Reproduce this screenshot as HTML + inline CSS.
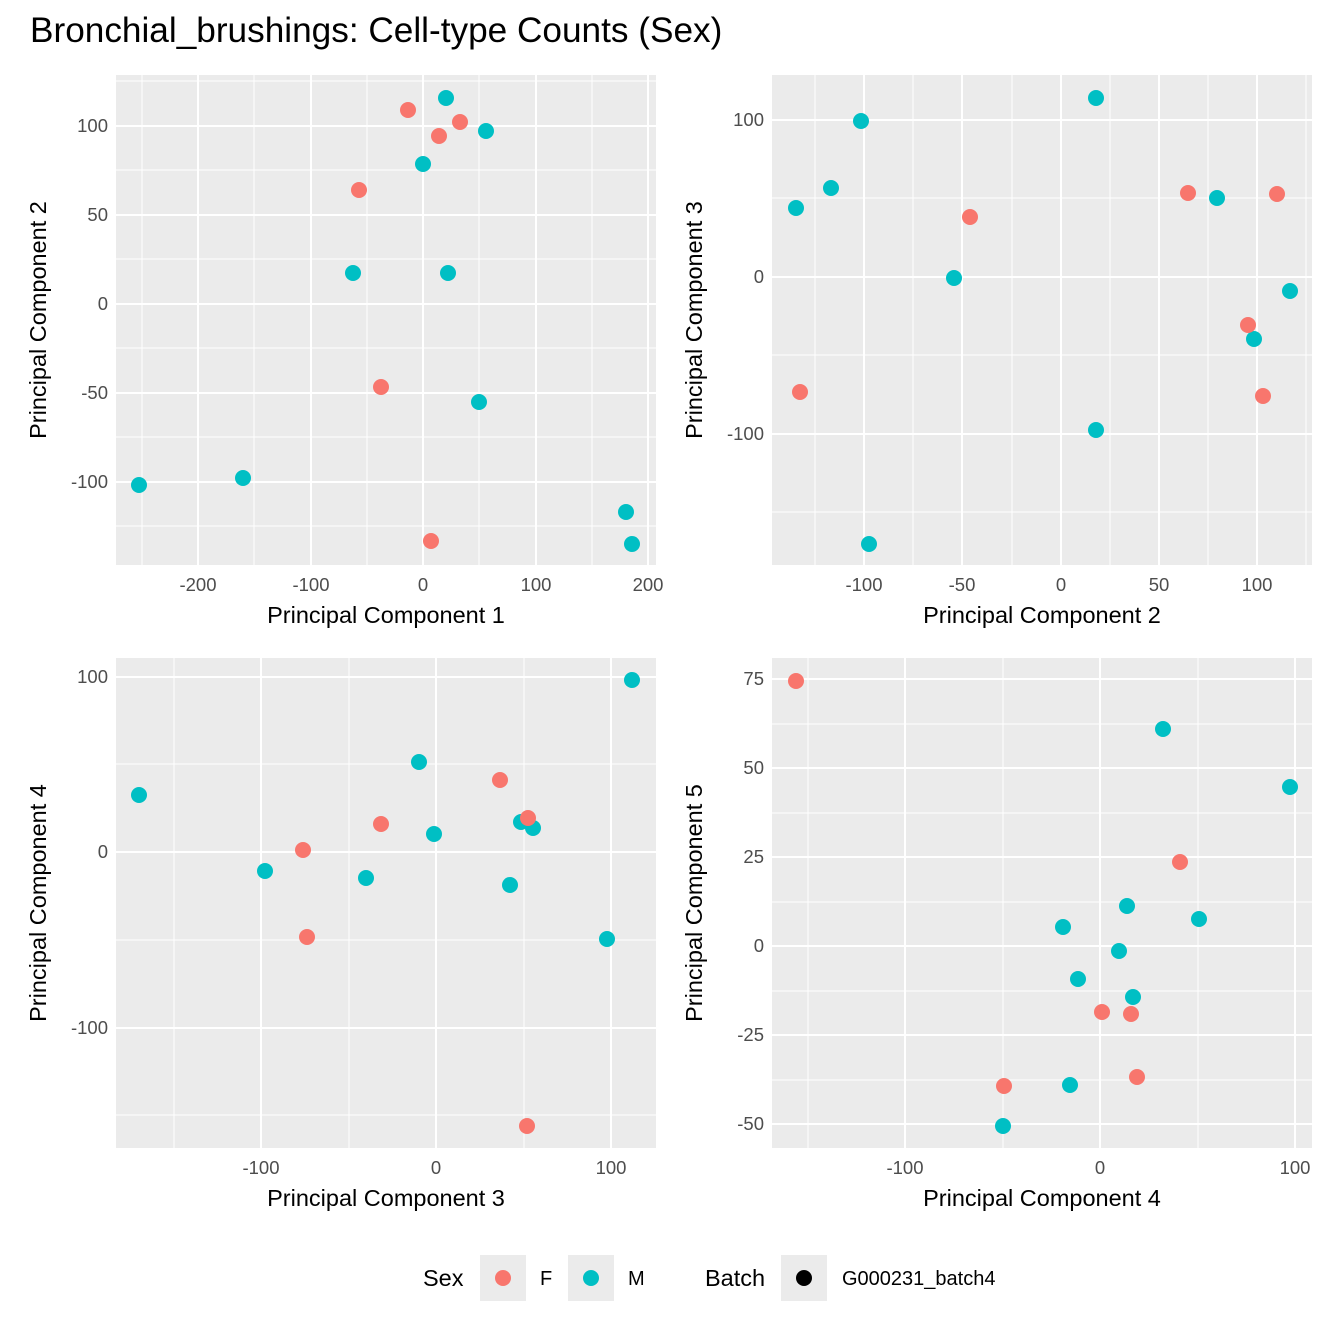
<!DOCTYPE html>
<html><head><style>body{margin:0;background:#fff}svg{display:block}</style></head><body>
<svg width="1344" height="1344" xmlns="http://www.w3.org/2000/svg" font-family="Liberation Sans, Arial, sans-serif">
<rect width="1344" height="1344" fill="#fff"/>
<text x="30" y="42" font-size="35.2" fill="#000">Bronchial_brushings: Cell-type Counts (Sex)</text>

<!-- Panel 1 -->
<rect x="116" y="75" width="540" height="490" fill="#ebebeb"/>
<g stroke="#fff" stroke-width="1">
<line x1="116" x2="656" y1="170" y2="170"/><line x1="116" x2="656" y1="259" y2="259"/><line x1="116" x2="656" y1="348" y2="348"/><line x1="116" x2="656" y1="437" y2="437"/><line x1="116" x2="656" y1="526" y2="526"/><line x1="116" x2="656" y1="81" y2="81"/>
<line y1="75" y2="565" x1="142" x2="142"/><line y1="75" y2="565" x1="254" x2="254"/><line y1="75" y2="565" x1="367" x2="367"/><line y1="75" y2="565" x1="479" x2="479"/><line y1="75" y2="565" x1="592" x2="592"/>
</g>
<g stroke="#fff" stroke-width="2">
<line x1="116" x2="656" y1="126" y2="126"/><line x1="116" x2="656" y1="215" y2="215"/><line x1="116" x2="656" y1="304" y2="304"/><line x1="116" x2="656" y1="393" y2="393"/><line x1="116" x2="656" y1="482" y2="482"/>
<line y1="75" y2="565" x1="198" x2="198"/><line y1="75" y2="565" x1="311" x2="311"/><line y1="75" y2="565" x1="423" x2="423"/><line y1="75" y2="565" x1="536" x2="536"/><line y1="75" y2="565" x1="648" x2="648"/>
</g>
<g font-size="18.5" fill="#4d4d4d" text-anchor="end">
<text x="108" y="132">100</text><text x="108" y="221">50</text><text x="108" y="310">0</text><text x="108" y="399">-50</text><text x="108" y="488">-100</text>
</g>
<g font-size="18.5" fill="#4d4d4d" text-anchor="middle">
<text x="198" y="591">-200</text><text x="311" y="591">-100</text><text x="423" y="591">0</text><text x="536" y="591">100</text><text x="648" y="591">200</text>
</g>
<text x="386" y="623" font-size="23.5" text-anchor="middle">Principal Component 1</text>
<text transform="translate(46,320) rotate(-90)" font-size="23.5" text-anchor="middle">Principal Component 2</text>
<g fill="#00BFC4"><circle cx="446" cy="98" r="8"/><circle cx="486" cy="131" r="8"/><circle cx="423" cy="164" r="8"/><circle cx="353" cy="273" r="8"/><circle cx="448" cy="273" r="8"/><circle cx="479" cy="402" r="8"/><circle cx="139" cy="485" r="8"/><circle cx="243" cy="478" r="8"/><circle cx="626" cy="512" r="8"/><circle cx="632" cy="544" r="8"/></g>
<g fill="#F8766D"><circle cx="408" cy="110" r="8"/><circle cx="460" cy="122" r="8"/><circle cx="439" cy="136" r="8"/><circle cx="359" cy="190" r="8"/><circle cx="381" cy="387" r="8"/><circle cx="431" cy="541" r="8"/></g>

<!-- Panel 2 -->
<rect x="772" y="75" width="540" height="490" fill="#ebebeb"/>
<g stroke="#fff" stroke-width="1">
<line x1="772" x2="1312" y1="198" y2="198"/><line x1="772" x2="1312" y1="355" y2="355"/><line x1="772" x2="1312" y1="512" y2="512"/>
<line y1="75" y2="565" x1="815" x2="815"/><line y1="75" y2="565" x1="913" x2="913"/><line y1="75" y2="565" x1="1012" x2="1012"/><line y1="75" y2="565" x1="1110" x2="1110"/><line y1="75" y2="565" x1="1208" x2="1208"/><line y1="75" y2="565" x1="1306" x2="1306"/>
</g>
<g stroke="#fff" stroke-width="2">
<line x1="772" x2="1312" y1="120" y2="120"/><line x1="772" x2="1312" y1="277" y2="277"/><line x1="772" x2="1312" y1="434" y2="434"/>
<line y1="75" y2="565" x1="864" x2="864"/><line y1="75" y2="565" x1="962" x2="962"/><line y1="75" y2="565" x1="1061" x2="1061"/><line y1="75" y2="565" x1="1159" x2="1159"/><line y1="75" y2="565" x1="1257" x2="1257"/>
</g>
<g font-size="18.5" fill="#4d4d4d" text-anchor="end">
<text x="764" y="126">100</text><text x="764" y="283">0</text><text x="764" y="440">-100</text>
</g>
<g font-size="18.5" fill="#4d4d4d" text-anchor="middle">
<text x="864" y="591">-100</text><text x="962" y="591">-50</text><text x="1061" y="591">0</text><text x="1159" y="591">50</text><text x="1257" y="591">100</text>
</g>
<text x="1042" y="623" font-size="23.5" text-anchor="middle">Principal Component 2</text>
<text transform="translate(702,320) rotate(-90)" font-size="23.5" text-anchor="middle">Principal Component 3</text>
<g fill="#00BFC4"><circle cx="1096" cy="98" r="8"/><circle cx="861" cy="121" r="8"/><circle cx="831" cy="188" r="8"/><circle cx="796" cy="208" r="8"/><circle cx="1217" cy="198" r="8"/><circle cx="954" cy="278" r="8"/><circle cx="1290" cy="291" r="8"/><circle cx="1254" cy="339" r="8"/><circle cx="1096" cy="430" r="8"/><circle cx="869" cy="544" r="8"/></g>
<g fill="#F8766D"><circle cx="1188" cy="193" r="8"/><circle cx="1277" cy="194" r="8"/><circle cx="970" cy="217" r="8"/><circle cx="1248" cy="325" r="8"/><circle cx="1263" cy="396" r="8"/><circle cx="800" cy="392" r="8"/></g>

<!-- Panel 3 -->
<rect x="116" y="658" width="540" height="490" fill="#ebebeb"/>
<g stroke="#fff" stroke-width="1">
<line x1="116" x2="656" y1="764" y2="764"/><line x1="116" x2="656" y1="940" y2="940"/><line x1="116" x2="656" y1="1115" y2="1115"/>
<line y1="658" y2="1148" x1="174" x2="174"/><line y1="658" y2="1148" x1="349" x2="349"/><line y1="658" y2="1148" x1="524" x2="524"/>
</g>
<g stroke="#fff" stroke-width="2">
<line x1="116" x2="656" y1="677" y2="677"/><line x1="116" x2="656" y1="852" y2="852"/><line x1="116" x2="656" y1="1028" y2="1028"/>
<line y1="658" y2="1148" x1="261" x2="261"/><line y1="658" y2="1148" x1="436" x2="436"/><line y1="658" y2="1148" x1="611" x2="611"/>
</g>
<g font-size="18.5" fill="#4d4d4d" text-anchor="end">
<text x="108" y="683">100</text><text x="108" y="858">0</text><text x="108" y="1034">-100</text>
</g>
<g font-size="18.5" fill="#4d4d4d" text-anchor="middle">
<text x="261" y="1174">-100</text><text x="436" y="1174">0</text><text x="611" y="1174">100</text>
</g>
<text x="386" y="1206" font-size="23.5" text-anchor="middle">Principal Component 3</text>
<text transform="translate(46,903) rotate(-90)" font-size="23.5" text-anchor="middle">Principal Component 4</text>
<g fill="#00BFC4"><circle cx="632" cy="680" r="8"/><circle cx="139" cy="795" r="8"/><circle cx="419" cy="762" r="8"/><circle cx="521" cy="822" r="8"/><circle cx="533" cy="828" r="8"/><circle cx="434" cy="834" r="8"/><circle cx="265" cy="871" r="8"/><circle cx="366" cy="878" r="8"/><circle cx="510" cy="885" r="8"/><circle cx="607" cy="939" r="8"/></g>
<g fill="#F8766D"><circle cx="500" cy="780" r="8"/><circle cx="528" cy="818" r="8"/><circle cx="381" cy="824" r="8"/><circle cx="303" cy="850" r="8"/><circle cx="307" cy="937" r="8"/><circle cx="527" cy="1126" r="8"/></g>

<!-- Panel 4 -->
<rect x="772" y="658" width="540" height="490" fill="#ebebeb"/>
<g stroke="#fff" stroke-width="1">
<line x1="772" x2="1312" y1="724" y2="724"/><line x1="772" x2="1312" y1="813" y2="813"/><line x1="772" x2="1312" y1="902" y2="902"/><line x1="772" x2="1312" y1="991" y2="991"/><line x1="772" x2="1312" y1="1080" y2="1080"/>
<line y1="658" y2="1148" x1="808" x2="808"/><line y1="658" y2="1148" x1="1003" x2="1003"/><line y1="658" y2="1148" x1="1198" x2="1198"/>
</g>
<g stroke="#fff" stroke-width="2">
<line x1="772" x2="1312" y1="679" y2="679"/><line x1="772" x2="1312" y1="768" y2="768"/><line x1="772" x2="1312" y1="857" y2="857"/><line x1="772" x2="1312" y1="946" y2="946"/><line x1="772" x2="1312" y1="1035" y2="1035"/><line x1="772" x2="1312" y1="1124" y2="1124"/>
<line y1="658" y2="1148" x1="905" x2="905"/><line y1="658" y2="1148" x1="1100" x2="1100"/><line y1="658" y2="1148" x1="1295" x2="1295"/>
</g>
<g font-size="18.5" fill="#4d4d4d" text-anchor="end">
<text x="764" y="685">75</text><text x="764" y="774">50</text><text x="764" y="863">25</text><text x="764" y="952">0</text><text x="764" y="1041">-25</text><text x="764" y="1130">-50</text>
</g>
<g font-size="18.5" fill="#4d4d4d" text-anchor="middle">
<text x="905" y="1174">-100</text><text x="1100" y="1174">0</text><text x="1295" y="1174">100</text>
</g>
<text x="1042" y="1206" font-size="23.5" text-anchor="middle">Principal Component 4</text>
<text transform="translate(702,903) rotate(-90)" font-size="23.5" text-anchor="middle">Principal Component 5</text>
<g fill="#00BFC4"><circle cx="1163" cy="729" r="8"/><circle cx="1290" cy="787" r="8"/><circle cx="1127" cy="906" r="8"/><circle cx="1199" cy="919" r="8"/><circle cx="1063" cy="927" r="8"/><circle cx="1119" cy="951" r="8"/><circle cx="1078" cy="979" r="8"/><circle cx="1133" cy="997" r="8"/><circle cx="1070" cy="1085" r="8"/><circle cx="1003" cy="1126" r="8"/></g>
<g fill="#F8766D"><circle cx="796" cy="681" r="8"/><circle cx="1180" cy="862" r="8"/><circle cx="1102" cy="1012" r="8"/><circle cx="1131" cy="1014" r="8"/><circle cx="1137" cy="1077" r="8"/><circle cx="1004" cy="1086" r="8"/></g>

<!-- Legend -->
<text x="423" y="1286" font-size="23.5">Sex</text>
<rect x="480" y="1255" width="46" height="46" fill="#ebebeb"/><circle cx="503" cy="1278" r="8" fill="#F8766D"/>
<text x="540" y="1285" font-size="20">F</text>
<rect x="568" y="1255" width="46" height="46" fill="#ebebeb"/><circle cx="591" cy="1278" r="8" fill="#00BFC4"/>
<text x="628" y="1285" font-size="20">M</text>
<text x="705" y="1286" font-size="23.5">Batch</text>
<rect x="781" y="1255" width="46" height="46" fill="#ebebeb"/><circle cx="804" cy="1278" r="8" fill="#000"/>
<text x="842" y="1285" font-size="20">G000231_batch4</text>
</svg>
</body></html>
